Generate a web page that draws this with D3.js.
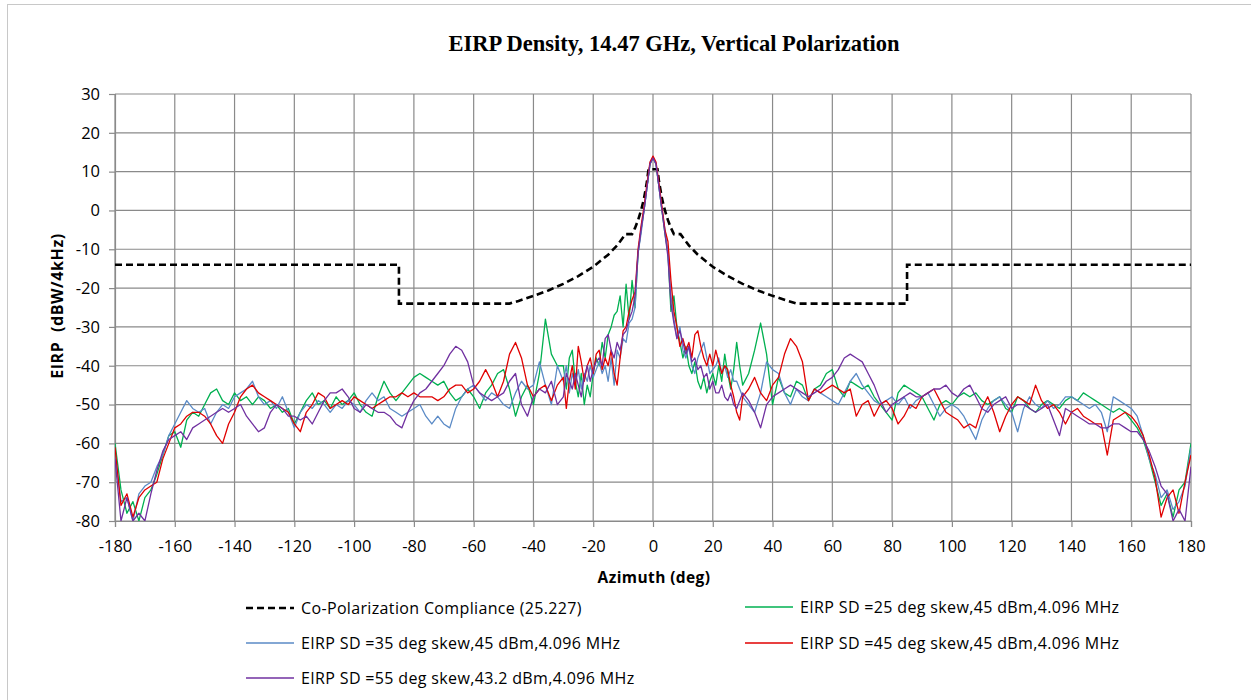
<!DOCTYPE html>
<html>
<head>
<meta charset="utf-8">
<script src="https://cdn.jsdelivr.net/npm/d3@7"></script>
<style>
body { margin: 0; background: #fff; }
svg text { font-family: "Open Sans", "DejaVu Sans", sans-serif; fill: #000; }
</style>
</head>
<body>
<svg id="chart" width="1251" height="700"></svg>
<script>
// azimuth grid: 2 deg in the wings, 1 deg around the main lobe
var azimuth = d3.range(-180, -31, 2).concat(d3.range(-30, 31, 1), d3.range(32, 181, 2));

var xTicks = d3.range(-180, 181, 20);
var yTicks = d3.range(-80, 31, 10);

// Co-polarization compliance mask (25.227)
var maskAz  = [-180, -85, -85, -48, -45, -40, -35, -30, -25, -20, -15, -12, -9.2, -7, -6, -5, -4, -3, -2, -1.5,
               1.5, 2, 3, 4, 5, 6, 7, 9.2, 12, 15, 20, 25, 30, 35, 40, 45, 48, 85, 85, 180];
var maskVal = [-14, -14, -24, -24, -23.3, -22, -20.6, -18.9, -16.9, -14.5, -11.4, -9, -6.1, -6.1, -4.5, -2.5, 0, 3.1, 7.5, 10.6,
               10.6, 7.5, 3.1, 0, -2.5, -4.5, -6.1, -6.1, -9, -11.4, -14.5, -16.9, -18.9, -20.6, -22, -23.3, -24, -24, -14, -14];

// 25 deg skew
var sd25 = [
  -60,-72,-78,-75,-80,-74,-72,-68,-63,-58,
  -57,-61,-54,-52,-53,-50,-47,-46,-49,-50,
  -47,-49,-48,-50,-48,-49,-51,-50,-52,-51,
  -55,-52,-49,-47,-50,-49,-51,-48,-50,-49,
  -47,-50,-52,-53,-48,-44,-47,-49,-47,-45,
  -43,-42,-43,-44,-45,-44,-47,-49,-48,-46,
  -48,-51,-47,-45,-42,-41,-46,-53,-48,-45,
  -50,-42,-28,-37,-40,
  -40,-46,-38,-36,-44,-48,-42,-50,-45,-48,
  -42,-38,-40,-34,-38,-32,-30,-27,-26,-22,
  -30,-19,-28,-18,-25,-11,-5,0,6,12,
  13.5,
  12,6,0,-6,-11,-26,-22,-30,-34,-38,
  -35,-40,-42,-39,-44,-46,-43,-47,-44,-42,
  -45,-40,-44,-37,-42,-46,-41,-34,-40,-45,
  -42,-36,-29,-37,-50,-43,-47,-48,-44,-45,
  -49,-46,-45,-42,-41,-46,-48,-44,-45,-46,
  -45,-48,-50,-52,-54,-47,-45,-46,-47,-48,
  -51,-54,-50,-49,-50,-48,-47,-48,-47,-49,
  -50,-49,-48,-51,-52,-48,-49,-51,-52,-50,
  -49,-50,-51,-49,-48,-49,-47,-48,-49,-50,
  -51,-52,-51,-52,-54,-56,-59,-64,-70,-76,
  -73,-79,-72,-70,-60
];

// 35 deg skew
var sd35 = [
  -63,-75,-74,-80,-73,-71,-70,-66,-63,-58,
  -55,-52,-49,-51,-52,-51,-55,-52,-50,-51,
  -48,-47,-46,-44,-48,-50,-49,-51,-48,-52,
  -56,-52,-50,-51,-49,-50,-52,-50,-51,-49,
  -50,-52,-49,-47,-49,-48,-51,-52,-53,-52,
  -51,-50,-53,-55,-53,-55,-56,-51,-48,-46,
  -45,-47,-49,-47,-48,-50,-51,-47,-44,-46,
  -45,-39,-45,-50,-40,
  -44,-40,-47,-42,-45,-41,-46,-42,-44,-40,
  -43,-41,-39,-42,-40,-44,-38,-45,-36,-38,
  -33,-34,-29,-28,-25,-11,-6,0,6,12,
  13.5,
  12,6,0,-5,-11,-22,-28,-33,-30,-36,
  -38,-35,-40,-42,-38,-36,-34,-38,-42,-41,
  -40,-38,-42,-40,-43,-41,-44,-44,-46,-48,
  -50,-52,-47,-39,-41,-42,-47,-50,-46,-48,
  -49,-46,-47,-48,-49,-50,-47,-44,-42,-45,
  -47,-49,-50,-49,-48,-50,-48,-51,-49,-48,
  -47,-50,-53,-51,-50,-51,-53,-56,-59,-54,
  -51,-49,-48,-50,-52,-57,-51,-48,-50,-51,
  -49,-51,-50,-48,-48,-49,-50,-51,-50,-52,
  -57,-48,-49,-50,-51,-53,-58,-64,-68,-74,
  -72,-77,-75,-71,-61
];

// 45 deg skew
var sd45 = [
  -61,-76,-73,-79,-74,-72,-71,-70,-64,-60,
  -56,-55,-53,-52,-52,-53,-55,-58,-60,-55,
  -52,-48,-46,-45,-47,-48,-49,-50,-51,-52,
  -55,-57,-52,-50,-47,-48,-51,-50,-49,-50,
  -48,-49,-50,-51,-50,-49,-48,-48,-47,-48,
  -47,-48,-48,-48,-49,-48,-46,-45,-45,-47,
  -46,-44,-41,-44,-48,-44,-37,-34,-38,-45,
  -48,-46,-45,-49,-45,
  -43,-51,-44,-40,-46,-35,-39,-44,-40,-38,
  -42,-37,-36,-41,-38,-40,-36,-42,-45,-38,
  -31,-30,-26,-23,-21,-10,-4,1,7,12.5,
  14,
  12.5,7,1,-5,-8,-18,-26,-30,-35,-33,
  -36,-34,-38,-32,-31,-35,-38,-40,-37,-40,
  -36,-39,-42,-40,-41,-45,-48,-52,-54,-48,
  -46,-43,-47,-49,-45,-43,-37,-33,-35,-39,
  -49,-46,-47,-46,-45,-46,-47,-46,-53,-50,
  -49,-53,-50,-49,-51,-55,-53,-50,-51,-48,
  -47,-46,-49,-52,-53,-54,-56,-55,-56,-51,
  -48,-52,-57,-53,-50,-48,-49,-50,-45,-49,
  -51,-50,-52,-55,-52,-51,-53,-54,-55,-55,
  -63,-54,-53,-52,-53,-55,-58,-63,-69,-79,
  -74,-72,-78,-70,-63
];

// 55 deg skew
var sd55 = [
  -64,-80,-74,-80,-78,-80,-73,-67,-62,-59,
  -58,-57,-59,-56,-55,-54,-53,-52,-51,-52,
  -51,-50,-53,-55,-57,-56,-52,-50,-51,-53,
  -53,-54,-53,-55,-52,-49,-47,-47,-46,-48,
  -51,-52,-50,-51,-52,-52,-53,-55,-56,-52,
  -49,-47,-46,-44,-42,-40,-37,-35,-36,-39,
  -45,-47,-48,-49,-48,-47,-44,-42,-50,-53,
  -48,-46,-47,-44,-50,
  -48,-42,-44,-46,-42,-45,-48,-43,-40,-44,
  -41,-39,-38,-40,-33,-32,-36,-38,-34,-36,
  -32,-31,-28,-26,-22,-11,-5,0,6,12,
  13.5,
  12,6,0,-6,-12,-24,-29,-33,-31,-34,
  -37,-35,-39,-38,-41,-40,-43,-42,-46,-44,
  -47,-47,-45,-48,-49,-47,-50,-51,-49,-47,
  -49,-52,-56,-50,-48,-47,-46,-45,-46,-47,
  -48,-47,-46,-44,-43,-41,-38,-37,-38,-39,
  -42,-45,-49,-52,-50,-49,-48,-47,-48,-48,
  -47,-46,-46,-45,-47,-48,-46,-45,-48,-51,
  -52,-50,-49,-48,-51,-50,-50,-51,-52,-51,
  -50,-54,-58,-51,-52,-53,-54,-55,-55,-56,
  -56,-55,-55,-56,-57,-57,-59,-62,-66,-71,
  -73,-80,-77,-80,-66
];

var seriesNames = [
  'Co-Polarization Compliance (25.227)',
  'EIRP SD =25 deg skew,45 dBm,4.096 MHz',
  'EIRP SD =35 deg skew,45 dBm,4.096 MHz',
  'EIRP SD =45 deg skew,45 dBm,4.096 MHz',
  'EIRP SD =55 deg skew,43.2 dBm,4.096 MHz'
];
var seriesColors = ['#000000', '#00B050', '#5A8AC6', '#E00000', '#7030A0'];

var svg = d3.select('#chart');
var plotL = 115, plotR = 1191, plotT = 94, plotB = 521;

var x = d3.scaleLinear().domain([-180, 180]).range([plotL, plotR]);
var y = d3.scaleLinear().domain([-80, 30]).range([plotB, plotT]);

// chart frame
svg.append('rect').attr('x', 7.5).attr('y', 4.5).attr('width', 1400).attr('height', 900)
  .attr('fill', '#fff').attr('stroke', '#c8c8c8').attr('stroke-width', 1);

svg.append('text').attr('x', 674).attr('y', 51).attr('text-anchor', 'middle')
  .style('font-family', '"Liberation Serif", "Times New Roman", serif')
  .style('font-weight', 'bold').style('font-size', '22.5px')
  .text('EIRP Density, 14.47 GHz, Vertical Polarization');

// grid
var grid = svg.append('g').attr('stroke', '#8a8a8a').attr('stroke-width', 1.2);
grid.selectAll('.vg').data(xTicks).enter().append('line')
  .attr('x1', function(d) { return x(d); }).attr('x2', function(d) { return x(d); })
  .attr('y1', plotT).attr('y2', plotB);
grid.selectAll('.hg').data(yTicks).enter().append('line')
  .attr('y1', function(d) { return y(d); }).attr('y2', function(d) { return y(d); })
  .attr('x1', plotL).attr('x2', plotR);

// axes
var plain = function(d) { return String(d); };
var yAxis = svg.append('g').attr('transform', 'translate(' + plotL + ',0)')
  .call(d3.axisLeft(y).tickValues(yTicks).tickFormat(plain).tickSize(6).tickPadding(9));
var xAxis = svg.append('g').attr('transform', 'translate(0,' + plotB + ')')
  .call(d3.axisBottom(x).tickValues(xTicks).tickFormat(plain).tickSize(6).tickPadding(13));
[xAxis, yAxis].forEach(function(a) {
  a.select('.domain').attr('stroke', '#8a8a8a').attr('stroke-width', 1.2);
  a.selectAll('.tick line').attr('stroke', '#8a8a8a').attr('stroke-width', 1.2);
  a.selectAll('.tick text').style('font-family', '"Open Sans", sans-serif').style('font-size', '16.5px').attr('fill', '#000');
});

svg.append('text').attr('x', 654).attr('y', 583).attr('text-anchor', 'middle')
  .style('font-weight', 'bold').style('font-size', '15.5px').style('letter-spacing', '0.4px')
  .text('Azimuth (deg)');
svg.append('text').attr('transform', 'translate(63,306) rotate(-90)').attr('text-anchor', 'middle')
  .style('font-weight', 'bold').style('font-size', '16px').style('letter-spacing', '0.6px')
  .attr('xml:space', 'preserve').text('EIRP  (dBW/4kHz)');

svg.append('clipPath').attr('id', 'plotclip').append('rect')
  .attr('x', plotL).attr('y', plotT).attr('width', plotR - plotL).attr('height', plotB - plotT);

var plot = svg.append('g').attr('clip-path', 'url(#plotclip)');

var line = d3.line().x(function(d) { return x(d[0]); }).y(function(d) { return y(d[1]); });

plot.append('path').datum(d3.zip(maskAz, maskVal)).attr('d', line)
  .attr('fill', 'none').attr('stroke', '#000').attr('stroke-width', 2.6)
  .attr('stroke-dasharray', '7,4');

[sd25, sd35, sd45, sd55].forEach(function(vals, i) {
  plot.append('path').datum(d3.zip(azimuth, vals)).attr('d', line)
    .attr('fill', 'none').attr('stroke', seriesColors[i + 1]).attr('stroke-width', 1.3)
    .attr('stroke-linejoin', 'round');
});

// legend
var legendPos = [[246, 608], [745, 607], [246, 643], [745, 643], [246, 678]];
var lg = svg.append('g');
seriesNames.forEach(function(name, i) {
  var p = legendPos[i];
  lg.append('line').attr('x1', p[0]).attr('x2', p[0] + 48).attr('y1', p[1]).attr('y2', p[1])
    .attr('stroke', seriesColors[i])
    .attr('stroke-width', i === 0 ? 2.6 : 1.3)
    .attr('stroke-dasharray', i === 0 ? '7,4' : null);
  lg.append('text').attr('x', p[0] + 55).attr('y', p[1]).attr('dy', '0.35em')
    .style('font-size', '16px').style('letter-spacing', '0.35px').attr('fill', '#000').text(name);
});
</script>
</body>
</html>
